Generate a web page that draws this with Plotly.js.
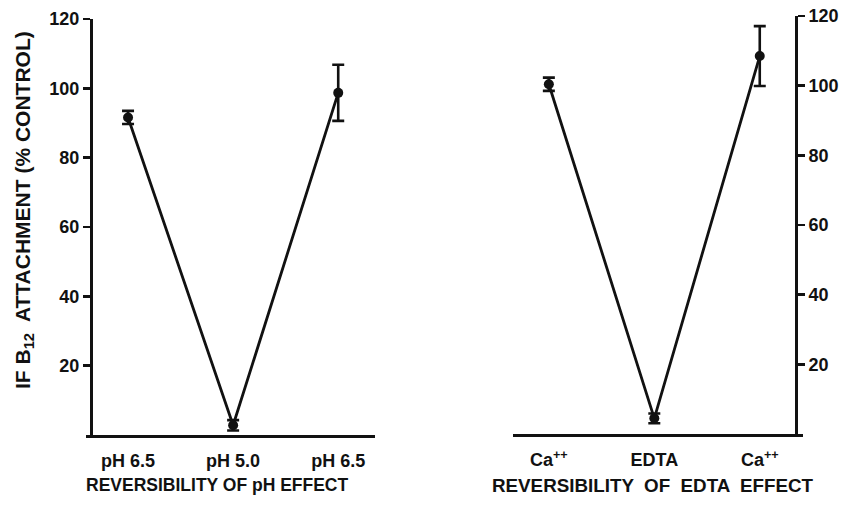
<!DOCTYPE html>
<html>
<head>
<meta charset="utf-8">
<script src="https://cdn.plot.ly/plotly-3.0.1.min.js"></script>
<style>
  html, body { margin: 0; padding: 0; background: #fff; }
  #chart { width: 841px; height: 505px; }
</style>
</head>
<body>
<div id="chart"></div>
<script>
// IF-B12 attachment, % of control, in two reversibility experiments
const phLabels = ["pH 6.5", "pH 5.0", "pH 6.5"];
const phValues = [91.6, 2.8, 98.7];
const phErrors = [1.9, 1.5, 8.1];

const edtaLabels = ["Ca<sup>++</sup>", "EDTA", "Ca<sup>++</sup>"];
const edtaValues = [100.4, 4.5, 108.5];
const edtaErrors = [1.9, 1.4, 8.6];

const yTicks = [20, 40, 60, 80, 100, 120];

const W = 841, H = 505;
const px = x => x / W;          // horizontal pixel -> paper fraction
const py = y => 1 - y / H;      // vertical pixel -> paper fraction

const FONT = "Liberation Sans, Arial, sans-serif";
const INK = "#111";

function series(values, errors, xa, ya) {
  return {
    x: values.map((_, i) => i),
    y: values,
    xaxis: xa, yaxis: ya,
    type: "scatter",
    mode: "lines+markers",
    line: { color: INK, width: 2.8 },
    marker: { color: INK, size: 10 },
    error_y: { type: "data", array: errors, visible: true,
               color: INK, thickness: 2.6, width: 6 },
    cliponaxis: false,
    hoverinfo: "skip",
    showlegend: false
  };
}

const xCommon = {
  showline: true, linecolor: INK, linewidth: 2.8,
  ticks: "", showgrid: false, zeroline: false,
  tickvals: [0, 1, 2],
  tickfont: { family: FONT, size: 18, color: INK, weight: "bold" },
  ticklabelstandoff: 8,
  fixedrange: true
};
const yCommon = {
  range: [0, 120],
  tickvals: yTicks,
  showline: true, linecolor: INK, linewidth: 2.8,
  ticks: "outside", ticklen: 7, tickwidth: 2.4, tickcolor: INK,
  showgrid: false, zeroline: false,
  tickfont: { family: FONT, size: 18, color: INK, weight: "bold" },
  ticklabelstandoff: 0,
  anchor: "free",
  fixedrange: true
};

const titleFont = { family: FONT, size: 18, color: INK, weight: "bold" };

const layout = {
  width: W, height: H,
  margin: { l: 0, r: 0, t: 0, b: 0 },
  paper_bgcolor: "#fff", plot_bgcolor: "rgba(0,0,0,0)",
  font: { family: FONT, color: INK },
  xaxis: Object.assign({}, xCommon, {
    domain: [px(86), px(375)], range: [-0.4, 2.35],
    ticktext: phLabels, anchor: "y"
  }),
  xaxis2: Object.assign({}, xCommon, {
    domain: [px(513), px(803)], range: [-0.34, 2.41],
    ticktext: edtaLabels, anchor: "y2"
  }),
  yaxis: Object.assign({}, yCommon, {
    domain: [py(435), py(19)], position: px(91), side: "left"
  }),
  yaxis2: Object.assign({}, yCommon, {
    domain: [py(434), py(16)], position: px(796), side: "right"
  }),
  annotations: [
    {
      text: "IF B<sub>12</sub>  ATTACHMENT (% CONTROL)",
      xref: "paper", yref: "paper", x: px(24), y: py(210),
      xanchor: "center", yanchor: "middle",
      textangle: -90, showarrow: false,
      font: Object.assign({}, titleFont, { size: 21 })
    },
    {
      text: "REVERSIBILITY OF pH EFFECT",
      xref: "paper", yref: "paper", x: px(218), y: py(485),
      xanchor: "center", yanchor: "middle",
      showarrow: false, font: Object.assign({}, titleFont, { size: 17.5 })
    },
    {
      text: "REVERSIBILITY  OF  EDTA  EFFECT",
      xref: "paper", yref: "paper", x: px(653), y: py(485),
      xanchor: "center", yanchor: "middle",
      showarrow: false, font: Object.assign({}, titleFont, { size: 18.8 })
    }
  ]
};

Plotly.newPlot("chart", [
  series(phValues, phErrors, "x", "y"),
  series(edtaValues, edtaErrors, "x2", "y2")
], layout, { staticPlot: true, displayModeBar: false });
</script>
</body>
</html>
